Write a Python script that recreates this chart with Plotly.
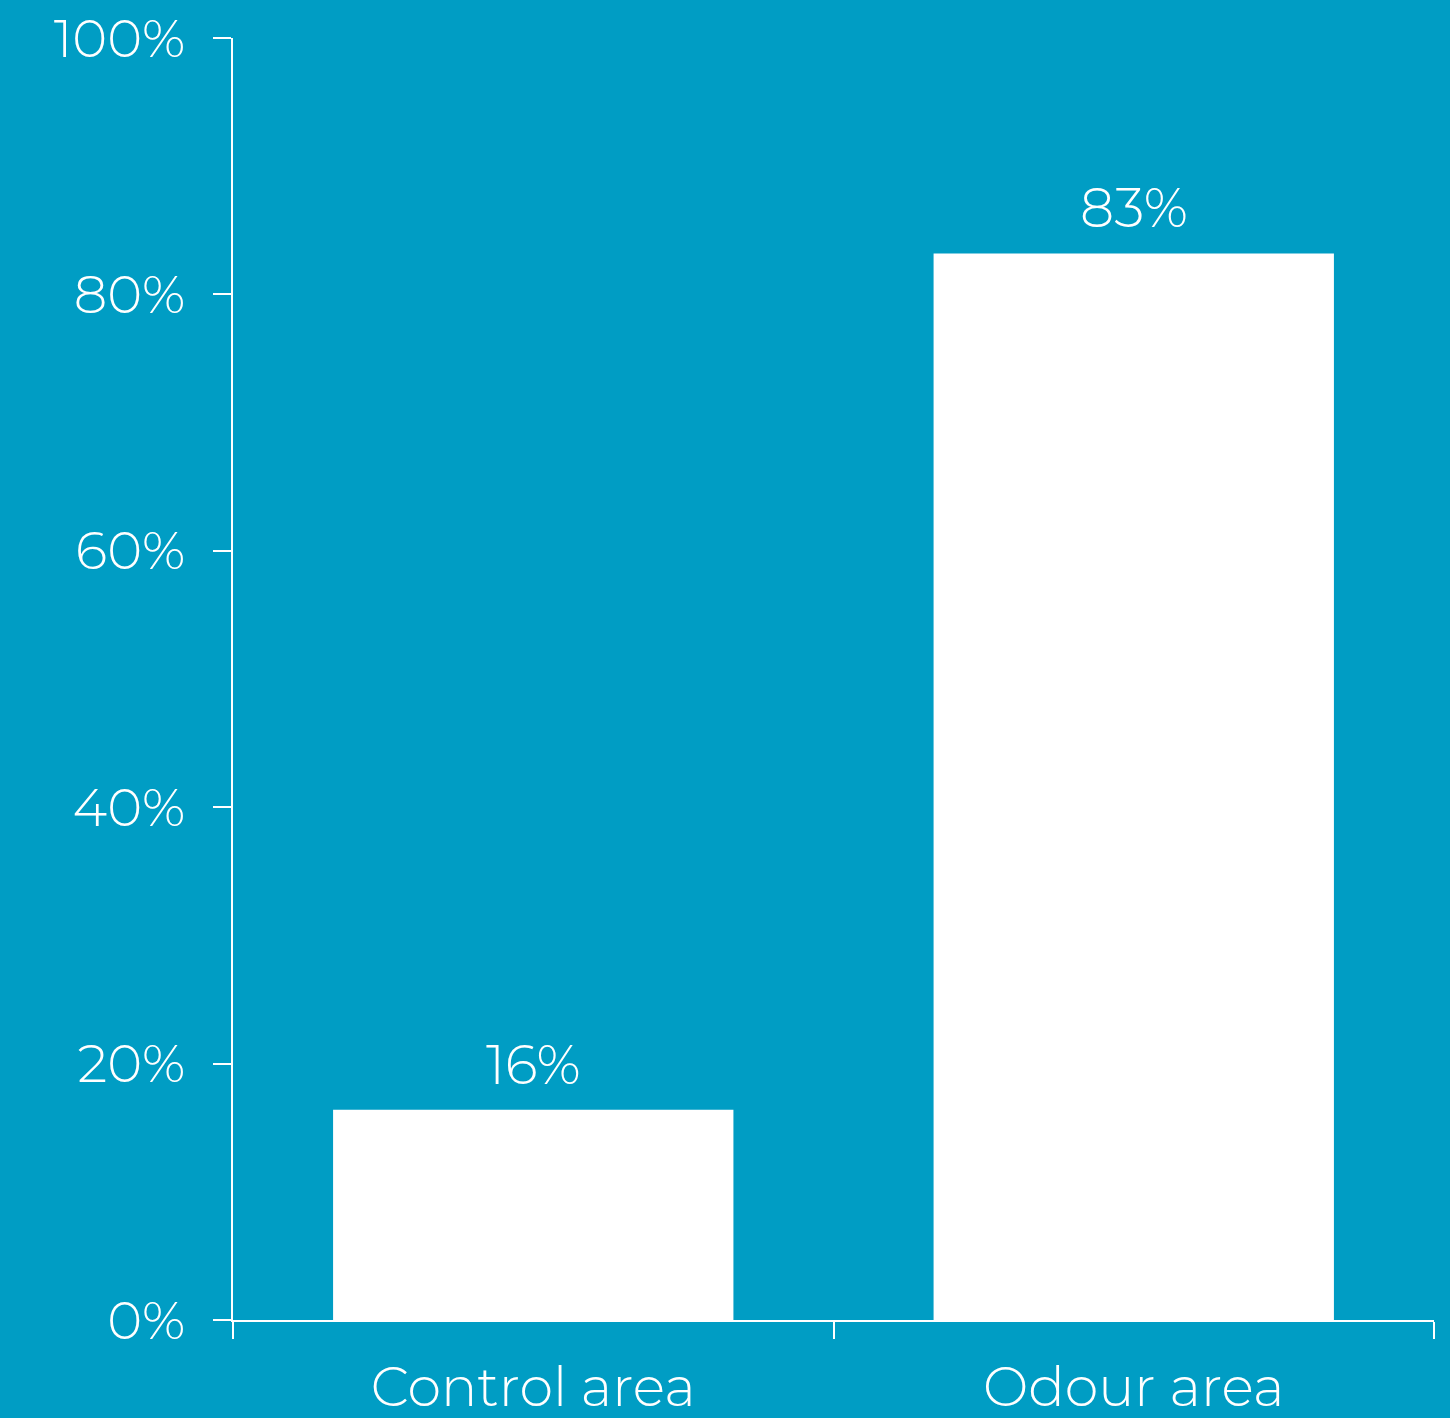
import plotly.graph_objects as go

categories = ["Control area", "Odour area"]
values = [16.4, 83.2]
labels = ["16%", "83%"]
y_ticks = [0, 20, 40, 60, 80, 100]
y_tick_labels = ["0%", "20%", "40%", "60%", "80%", "100%"]

BG = "#009DC4"
FONT = "Montserrat, Lato, 'Open Sans', sans-serif"

fig = go.Figure()
fig.add_trace(go.Bar(
    x=categories, y=values,
    marker=dict(color="white", line=dict(width=0)),
    hoverinfo="skip",
))

for c, v, t in zip(categories, values, labels):
    fig.add_annotation(x=c, y=v, text=t, showarrow=False, yanchor="bottom",
                       yshift=10, font=dict(size=54, color="white", family=FONT, weight=300))

fig.update_layout(
    width=1450, height=1418,
    paper_bgcolor=BG, plot_bgcolor=BG,
    margin=dict(l=233, r=16, t=38, b=98, autoexpand=False),
    bargap=1/3,
    showlegend=False,
    font=dict(family=FONT, color="white", size=54, weight=300),
)
fig.update_xaxes(
    showline=True, linecolor="white", linewidth=2,
    ticks="outside", ticklen=17, tickwidth=2, tickcolor="white",
    tickson="boundaries", showgrid=False, zeroline=False,
    tickfont=dict(size=54, color="white", family=FONT, weight=300),
    ticklabelstandoff=19, automargin=False,
)
fig.update_yaxes(
    range=[0, 100], tickvals=y_ticks, ticktext=y_tick_labels,
    showline=True, linecolor="white", linewidth=2,
    ticks="outside", ticklen=18, tickwidth=2, tickcolor="white",
    showgrid=False, zeroline=False,
    tickfont=dict(size=53, color="white", family=FONT, weight=300),
    ticklabelstandoff=17, automargin=False,
)

fig.write_html(
    "out.html",
    config={"displayModeBar": False},
    post_script="document.body.style.margin='0';document.body.style.padding='0';document.body.style.overflow='hidden';",
)
